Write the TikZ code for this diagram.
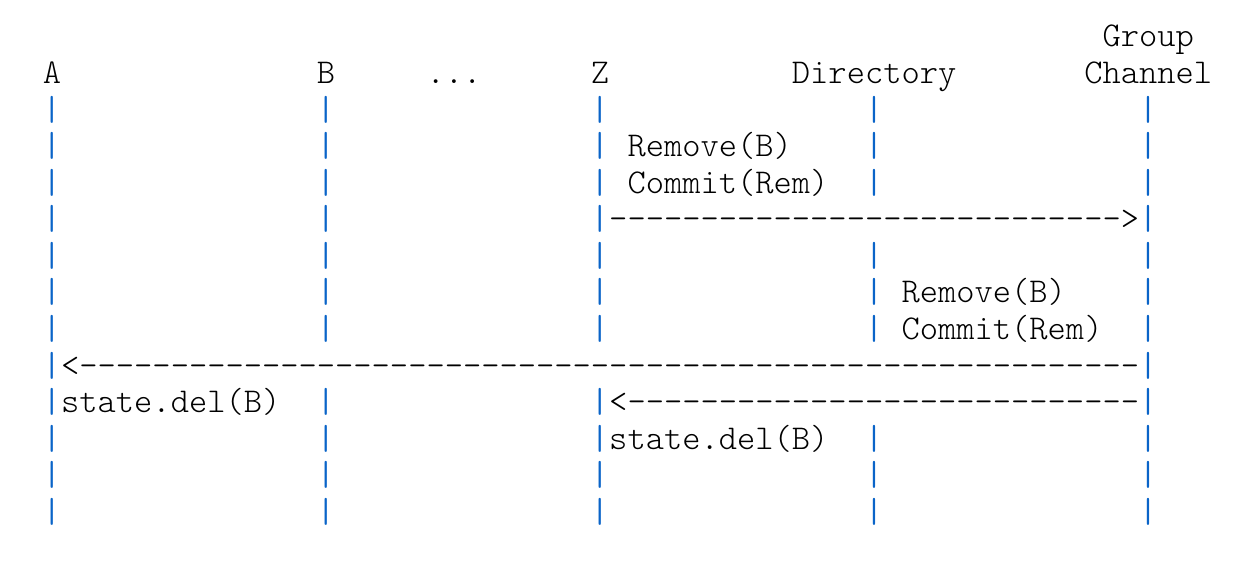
\documentclass[tikz,border=0pt]{standalone}
\usepackage{fontspec}
\definecolor{barblue}{HTML}{0A64C8}
\begin{document}
\begin{tikzpicture}[x=1pt,y=-1pt,
  cell/.style 2 args={at={({42.865+18.27*(#1)},{46.92+36.58*(#2)})}},
  txt/.style={anchor=base west, inner sep=0pt, outer sep=0pt,
    font=\ttfamily\fontseries{l}\fontsize{34.8}{36}\selectfont, text=black},
  bar/.style={anchor=base west, inner sep=0pt, outer sep=0pt,
    font=\ttfamily\fontseries{m}\fontsize{34.8}{36}\selectfont, text=barblue}]
\useasboundingbox (0,0) rectangle (1251,560);
% header labels
\node[txt, cell={58}{0}] (grp) {Group};
\node[txt, cell={0}{1}] (lA) {A};
\node[txt, cell={15}{1}] (lB) {B};
\node[txt, cell={21}{1}] (ldots) {...};
\node[txt, cell={30}{1}] (lZ) {Z};
\node[txt, cell={41}{1}] (lDir) {Directory};
\node[txt, cell={57}{1}] (lCh) {Channel};
% lifeline bars
\foreach \r/\cols in {2/{0,15,30,45,60},3/{0,15,30,45,60},4/{0,15,30,45,60},
  5/{0,15,30,60},6/{0,15,30,45,60},7/{0,15,30,45,60},8/{0,15,30,45,60},
  9/{0,60},10/{0,15,30,60},11/{0,15,30,45,60},12/{0,15,30,45,60},13/{0,15,30,45,60}}{
  \foreach \c in \cols {
    \node[bar, cell={\c}{\r}] (bar-\c-\r) {|};
  }
}
% messages
\node[txt, cell={32}{3}] (m1a) {Remove(B)};
\node[txt, cell={32}{4}] (m1b) {Commit(Rem)};
\node[txt, cell={31}{5}] (arr1) {----------------------------{>}};
\node[txt, cell={47}{7}] (m2a) {Remove(B)};
\node[txt, cell={47}{8}] (m2b) {Commit(Rem)};
\node[txt, cell={1}{9}] (arr2) {{<}----------------------------------------------------------};
\node[txt, cell={1}{10}] (sA) {state.del(B)};
\node[txt, cell={31}{10}] (arr3) {{<}----------------------------};
\node[txt, cell={31}{11}] (sZ) {state.del(B)};
\end{tikzpicture}
\end{document}
